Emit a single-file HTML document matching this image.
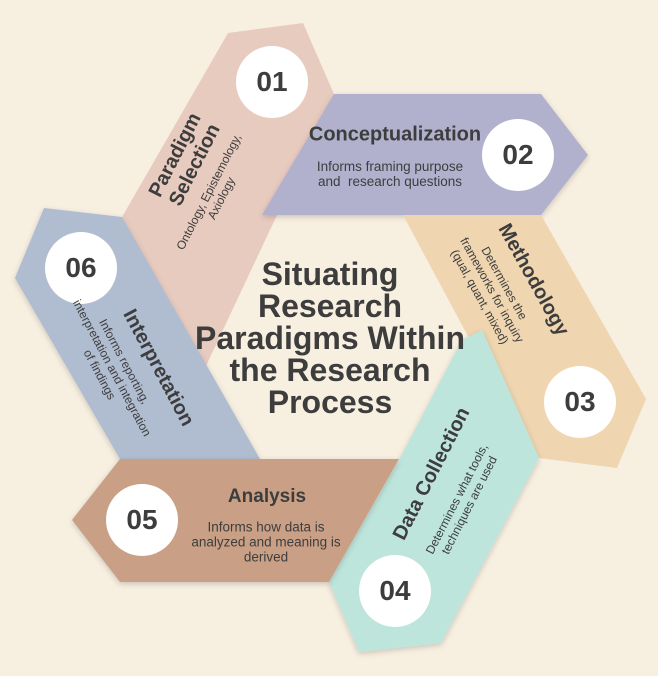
<!DOCTYPE html>
<html><head><style>
body{margin:0;width:658px;height:676px;background:#f7efe0;position:relative;overflow:hidden;font-family:"Liberation Sans",sans-serif;color:#3d3d3d}
svg{position:absolute;left:0;top:0}
.t{position:absolute;left:0;top:0;white-space:nowrap;text-align:center;transform-origin:center}
.h{font-weight:bold}
.s{font-size:12px;line-height:14px}
.n{position:absolute;width:72px;height:72px;border-radius:50%;background:#fff;font-weight:bold;font-size:28px;display:flex;align-items:center;justify-content:center}
</style></head><body>
<svg width="658" height="676">
<defs><filter id="sh" x="-20%" y="-20%" width="140%" height="140%"><feDropShadow dx="0" dy="2" stdDeviation="3" flood-opacity="0.18"/></filter></defs>
<polygon points="228,33 303,23 334,94 190,400 110,400 122,217" fill="#e8cbbf"/>
<polygon filter="url(#sh)" points="334,94 541,94 588,155 541,215 262,215" fill="#b1b1cd"/>
<polygon points="403,215 541,215 646,399 617,468 539,458 470,340" fill="#efd5b0"/>
<polygon filter="url(#sh)" points="462,340 482,330 539,458 441,643 359,652 329,582 399,460" fill="#bde5dc"/>
<polygon filter="url(#sh)" points="44,208 122,217 260,459 120,459 15,278" fill="#b0bccf"/>
<polygon filter="url(#sh)" points="120,459 399,459 329,582 120,582 72,520" fill="#c9a086"/>
</svg>
<div class="n" style="left:236px;top:46px">01</div>
<div class="n" style="left:482px;top:119px">02</div>
<div class="n" style="left:544px;top:366px">03</div>
<div class="n" style="left:359px;top:555px">04</div>
<div class="n" style="left:106px;top:484px">05</div>
<div class="n" style="left:45px;top:232px">06</div>

<div class="t h" style="left:330px;top:338px;transform:translate(-50%,-50%);font-size:32px;line-height:32px">Situating<br>Research<br>Paradigms Within<br>the Research<br>Process</div>

<div class="t" style="left:185px;top:160px;transform:translate(-50%,-50%) rotate(-63deg)"><div class="h" style="font-size:20px;line-height:22px">Paradigm<br>Selection</div></div>
<div class="t s" style="left:215px;top:195px;transform:translate(-50%,-50%) rotate(-63deg)">Ontology, Epistemology,<br>Axiology</div>

<div class="t h" style="left:395px;top:135px;transform:translate(-50%,-50%);font-size:20px">Conceptualization</div>
<div class="t" style="left:390px;top:174px;transform:translate(-50%,-50%);font-size:13.5px;line-height:15px">Informs framing purpose<br>and&nbsp; research questions</div>

<div class="t h" style="left:533px;top:280px;transform:translate(-50%,-50%) rotate(61deg);font-size:20px">Methodology</div>
<div class="t s" style="left:492px;top:290px;transform:translate(-50%,-50%) rotate(61deg)">Determines the<br>frameworks for inquiry<br>(qual, quant, mixed)</div>

<div class="t h" style="left:432px;top:474px;transform:translate(-50%,-50%) rotate(-63deg);font-size:20px">Data Collection</div>
<div class="t s" style="left:463px;top:502px;transform:translate(-50%,-50%) rotate(-63deg)">Determines what tools,<br>techniques are used</div>

<div class="t h" style="left:267px;top:497px;transform:translate(-50%,-50%);font-size:19px">Analysis</div>
<div class="t" style="left:266px;top:542px;transform:translate(-50%,-50%);font-size:13.5px;line-height:15px">Informs how data is<br>analyzed and meaning is<br>derived</div>

<div class="t h" style="left:158px;top:368px;transform:translate(-50%,-50%) rotate(62deg);font-size:20px">Interpretation</div>
<div class="t s" style="left:112px;top:368px;transform:translate(-50%,-50%) rotate(62deg)">Informs reporting,<br>interpretation and integration<br>of findings</div>
</body></html>
